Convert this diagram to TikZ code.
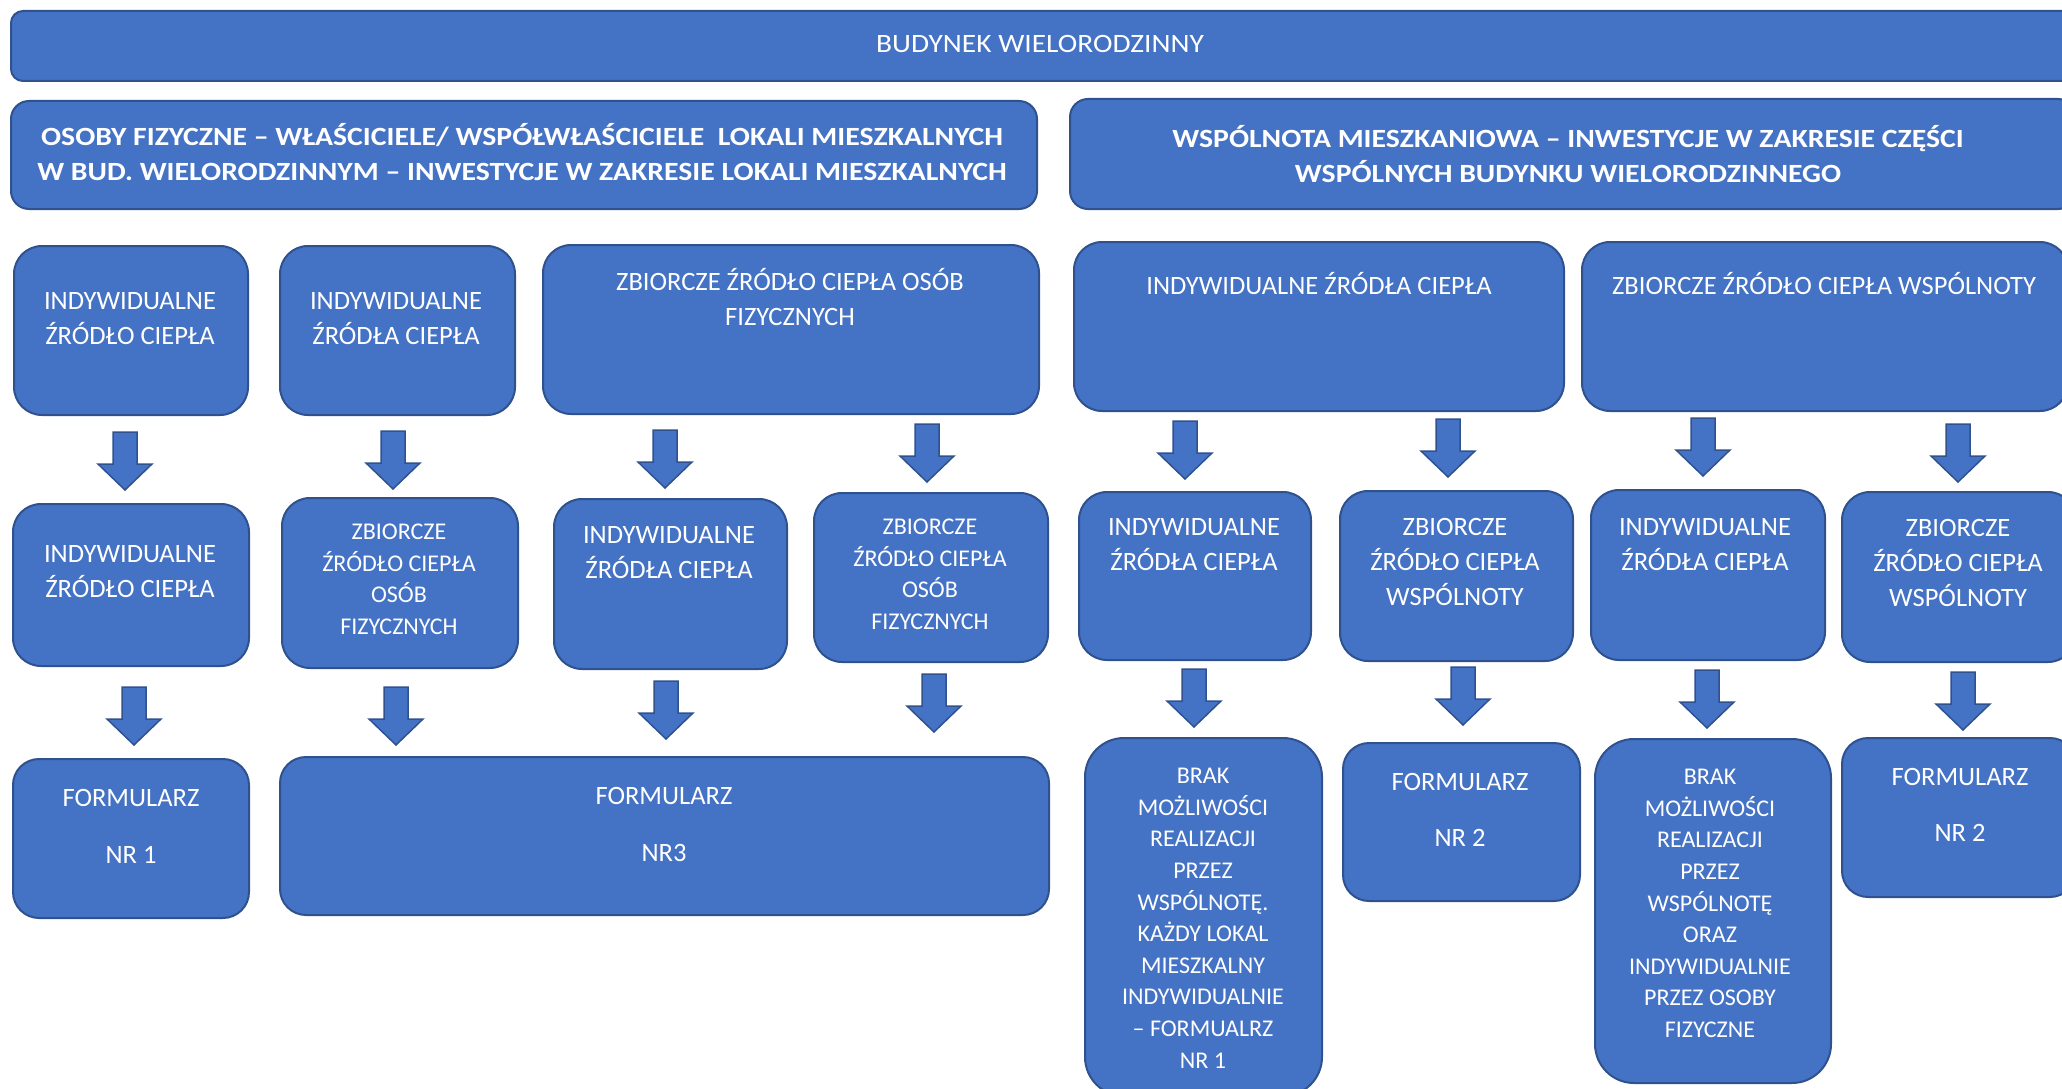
\documentclass[tikz,border=0pt]{standalone}
\usepackage{fontspec}
\setmainfont{Carlito}
\newfontfamily\widefont[FakeStretch=1.11]{Carlito}
\newfontfamily\headfont[FakeStretch=1.13]{Carlito}
\definecolor{boxfill}{HTML}{4472C4}
\definecolor{boxline}{HTML}{2F528F}
\newcommand\mlines[1]{\begin{tabular}[t]{@{}c@{}}#1\end{tabular}}
\begin{document}
\begin{tikzpicture}[x=1pt,y=-1pt,
  box/.style={draw=boxline, fill=boxfill, line width=2pt, inner sep=0pt, anchor=north west, rounded corners=28pt},
  txt/.style={anchor=base, text=white, inner sep=0pt, font=\fontsize{26.5}{35}\selectfont},
  stxt/.style={txt, font=\fontsize{24}{31.6}\selectfont},
  toptxt/.style={txt, font=\widefont\fontsize{26.5}{35}\selectfont},
  htxt/.style={txt, font=\headfont\bfseries\fontsize{26.3}{35}\selectfont},
  pics/downarrow/.style={code={\draw[fill=boxfill, draw=boxline, line width=1.5pt, line join=miter]
     (-12,0) -- (12,0) -- (12,32) -- (27,32) -- (0,58) -- (-27,32) -- (-12,32) -- cycle;}}]
\useasboundingbox (0,0) rectangle (2062,1089);
\clip (0,0) rectangle (2062,1089);
% boxes
\node[box, rounded corners=12pt, minimum width=2065, minimum height=70] (top) at (10,10) {};
\node[box, rounded corners=18pt, minimum width=1026, minimum height=108] (H1) at (10,100) {};
\node[box, rounded corners=18pt, minimum width=1006, minimum height=110] (H2) at (1069,98) {};
\node[box, minimum width=234, minimum height=169] (A1) at (13,245) {};
\node[box, minimum width=235, minimum height=169] (A2) at (279,245) {};
\node[box, minimum width=496, minimum height=169] (A3) at (542,244) {};
\node[box, minimum width=490, minimum height=169] (D1) at (1073,241) {};
\node[box, minimum width=486, minimum height=169] (D2) at (1581,241) {};
\node[box, minimum width=236, minimum height=162] (B1) at (12,503) {};
\node[box, minimum width=236, minimum height=170] (B2) at (281,497) {};
\node[box, minimum width=233, minimum height=170] (B3) at (553,498) {};
\node[box, minimum width=234, minimum height=169] (B4) at (813,492) {};
\node[box, minimum width=232, minimum height=168] (E1) at (1078,491) {};
\node[box, minimum width=233, minimum height=170] (E2) at (1339,490) {};
\node[box, minimum width=234, minimum height=170] (E3) at (1590,489) {};
\node[box, minimum width=234, minimum height=170] (E4) at (1841,491) {};
\node[box, rounded corners=26pt, minimum width=236, minimum height=159] (C1) at (12,758) {};
\node[box, rounded corners=26pt, minimum width=769, minimum height=158] (C2) at (279,756) {};
\node[box, rounded corners=39pt, minimum width=237, minimum height=358] (F1) at (1084,737) {};
\node[box, rounded corners=26pt, minimum width=237, minimum height=158] (F2) at (1342,742) {};
\node[box, rounded corners=39pt, minimum width=236, minimum height=344] (F3) at (1594,738) {};
\node[box, rounded corners=26pt, minimum width=234, minimum height=159] (F4) at (1841,737) {};
% texts
\node[toptxt] (tTop) at (1040,53) {BUDYNEK WIELORODZINNY};
\node[htxt] (tH1) at (522,146) {\mlines{OSOBY FIZYCZNE – WŁAŚCICIELE/ WSPÓŁWŁAŚCICIELE\ \ LOKALI MIESZKALNYCH\\W BUD. WIELORODZINNYM – INWESTYCJE W ZAKRESIE LOKALI MIESZKALNYCH}};
\node[htxt] (tH2) at (1568,148) {\mlines{WSPÓLNOTA MIESZKANIOWA – INWESTYCJE W ZAKRESIE CZĘŚCI\\WSPÓLNYCH BUDYNKU WIELORODZINNEGO}};
\node[txt] (tA1) at (130,309.5) {\mlines{INDYWIDUALNE\\ŹRÓDŁO CIEPŁA}};
\node[txt] (tA2) at (396,309.5) {\mlines{INDYWIDUALNE\\ŹRÓDŁA CIEPŁA}};
\node[txt] (tA3) at (790,290.5) {\mlines{ZBIORCZE ŹRÓDŁO CIEPŁA OSÓB\\FIZYCZNYCH}};
\node[txt] (tD1) at (1319,294.5) {INDYWIDUALNE ŹRÓDŁA CIEPŁA};
\node[txt] (tD2) at (1824,294.5) {ZBIORCZE ŹRÓDŁO CIEPŁA WSPÓLNOTY};
\node[txt] (tB1) at (130,562.5) {\mlines{INDYWIDUALNE\\ŹRÓDŁO CIEPŁA}};
\node[stxt] (tB2) at (399,539.7) {\mlines{ZBIORCZE\\ŹRÓDŁO CIEPŁA\\OSÓB\\FIZYCZNYCH}};
\node[txt] (tB3) at (669,543.5) {\mlines{INDYWIDUALNE\\ŹRÓDŁA CIEPŁA}};
\node[stxt] (tB4) at (930,534.7) {\mlines{ZBIORCZE\\ŹRÓDŁO CIEPŁA\\OSÓB\\FIZYCZNYCH}};
\node[txt] (tE1) at (1194,535.5) {\mlines{INDYWIDUALNE\\ŹRÓDŁA CIEPŁA}};
\node[txt] (tE2) at (1455,535.5) {\mlines{ZBIORCZE\\ŹRÓDŁO CIEPŁA\\WSPÓLNOTY}};
\node[txt] (tE3) at (1705,535.5) {\mlines{INDYWIDUALNE\\ŹRÓDŁA CIEPŁA}};
\node[txt] (tE4) at (1958,536.5) {\mlines{ZBIORCZE\\ŹRÓDŁO CIEPŁA\\WSPÓLNOTY}};
\node[txt] (tC1) at (131,806.5) {\mlines{FORMULARZ\\[22pt]NR 1}};
\node[txt] (tC2) at (664,804.5) {\mlines{FORMULARZ\\[22pt]NR3}};
\node[stxt] (tF1) at (1203,783.7) {\mlines{BRAK\\MOŻLIWOŚCI\\REALIZACJI\\PRZEZ\\WSPÓLNOTĘ.\\KAŻDY LOKAL\\MIESZKALNY\\INDYWIDUALNIE\\– FORMUALRZ\\NR 1}};
\node[txt] (tF2) at (1460,790.5) {\mlines{FORMULARZ\\[21pt]NR 2}};
\node[stxt] (tF3) at (1710,784.7) {\mlines{BRAK\\MOŻLIWOŚCI\\REALIZACJI\\PRZEZ\\WSPÓLNOTĘ\\ORAZ\\INDYWIDUALNIE\\PRZEZ OSOBY\\FIZYCZNE}};
\node[txt] (tF4) at (1960,785.5) {\mlines{FORMULARZ\\[21pt]NR 2}};
% arrows row 1
\pic at (125,432) {downarrow};
\pic at (393,431) {downarrow};
\pic at (665,430) {downarrow};
\pic at (927,424) {downarrow};
\pic at (1185,421) {downarrow};
\pic at (1448,419) {downarrow};
\pic at (1703,418) {downarrow};
\pic at (1958,424) {downarrow};
% arrows row 2
\pic at (134,687) {downarrow};
\pic at (396,687) {downarrow};
\pic at (666,681) {downarrow};
\pic at (934,674) {downarrow};
\pic at (1194,669) {downarrow};
\pic at (1463,667) {downarrow};
\pic at (1707,670) {downarrow};
\pic at (1963,672) {downarrow};
\end{tikzpicture}
\end{document}
